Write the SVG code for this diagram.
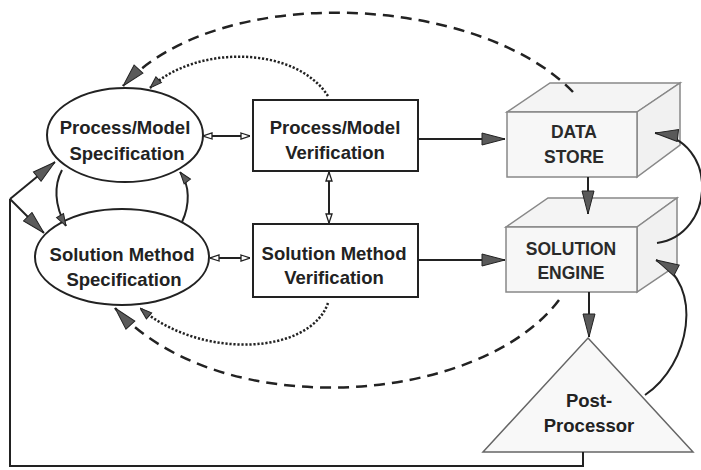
<svg xmlns="http://www.w3.org/2000/svg" width="701" height="470" viewBox="0 0 701 470">
  <style>
    .lbl { font-family: "Liberation Sans", Arial, sans-serif; font-weight: bold; font-size: 18.5px; fill: #222; text-anchor: middle; }
    .cube { font-size: 17.5px; fill: #2a2a2a; }
    .shape { fill: #fff; stroke: #222; stroke-width: 2; }
    .front { fill: #f7f7f7; stroke: #888; stroke-width: 1.5; }
    .top { fill: #f4f4f4; stroke: #888; stroke-width: 1.5; }
    .side { fill: #f1f1f1; stroke: #888; stroke-width: 1.5; }
    .tri { fill: #f8f8f8; stroke: #666; stroke-width: 1.5; }
    .ln { fill: none; stroke: #222; stroke-width: 2; }
    .dash { fill: none; stroke: #222; stroke-width: 2.5; stroke-dasharray: 11 7; }
    .dot { fill: none; stroke: #222; stroke-width: 2.5; stroke-dasharray: 2.2 1.8; }
  </style>
  <defs>
    <marker id="head" viewBox="0 0 24 14" refX="24" refY="7" markerWidth="24" markerHeight="14" markerUnits="userSpaceOnUse" orient="auto">
      <path d="M1,1 L24,7 L1,13 Z" fill="#5a5a5a" stroke="#222" stroke-width="1"/>
    </marker>
    <marker id="headSm" viewBox="0 0 13 10" refX="13" refY="5" markerWidth="13" markerHeight="10" markerUnits="userSpaceOnUse" orient="auto">
      <path d="M1,1 L13,5 L1,9 Z" fill="#5a5a5a" stroke="#222" stroke-width="1"/>
    </marker>
    <marker id="open" viewBox="0 0 10 8" refX="10" refY="4" markerWidth="10" markerHeight="8" markerUnits="userSpaceOnUse" orient="auto-start-reverse">
      <path d="M1,1 L10,4 L1,7 Z" fill="#fff" stroke="#222" stroke-width="1.3"/>
    </marker>
  </defs>

  <g id="pm-spec">
    <ellipse class="shape" cx="125" cy="135" rx="78" ry="47"/>
    <text class="lbl" x="125" y="134">Process/Model</text>
    <text class="lbl" x="127" y="160">Specification</text>
  </g>

  <g id="sm-spec">
    <ellipse class="shape" cx="122" cy="257" rx="87" ry="48"/>
    <text class="lbl" x="122" y="261">Solution Method</text>
    <text class="lbl" x="124" y="286">Specification</text>
  </g>

  <g id="pm-verif">
    <rect class="shape" x="253" y="100" width="165" height="71"/>
    <text class="lbl" x="335" y="134">Process/Model</text>
    <text class="lbl" x="335" y="159">Verification</text>
  </g>

  <g id="sm-verif">
    <rect class="shape" x="253" y="224" width="165" height="73"/>
    <text class="lbl" x="334" y="260">Solution Method</text>
    <text class="lbl" x="334" y="284">Verification</text>
  </g>

  <g id="data-store">
    <polygon class="top" points="507,112 550,83 680,83 637,112"/>
    <polygon class="side" points="637,112 680,83 680,145 637,177"/>
    <rect class="front" x="507" y="112" width="130" height="65"/>
    <text class="lbl cube" x="574" y="138">DATA</text>
    <text class="lbl cube" x="574" y="163">STORE</text>
  </g>

  <g id="solution-engine">
    <polygon class="top" points="506,227 548,198 677,198 637,227"/>
    <polygon class="side" points="637,227 677,198 677,265 637,292"/>
    <rect class="front" x="506" y="227" width="131" height="65"/>
    <text class="lbl cube" x="571" y="255">SOLUTION</text>
    <text class="lbl cube" x="571" y="279">ENGINE</text>
  </g>

  <g id="post-processor">
    <polygon class="tri" points="588,338 693,452 483,452"/>
    <text class="lbl" x="589" y="407">Post-</text>
    <text class="lbl" x="589" y="432">Processor</text>
  </g>

  <!-- connectors, drawn over the nodes so the loops show on the cube faces -->
  <g id="connectors">
    <!-- feedback loop from the post-processor -->
    <polyline class="ln" points="583,452 583,466 10,466 10,199"/>
    <line class="ln" x1="10" y1="199" x2="55" y2="162" marker-end="url(#head)"/>
    <line class="ln" x1="10" y1="199" x2="44" y2="233" marker-end="url(#head)"/>
    <!-- links between the two specifications -->
    <path class="ln" d="M62,170 C54,185 54,205 66,226" marker-end="url(#headSm)"/>
    <path class="ln" d="M182,222 C190,205 190,185 180,172" marker-end="url(#headSm)"/>
    <!-- specification / verification pairs -->
    <line class="ln" x1="203" y1="136" x2="250" y2="136" marker-start="url(#open)" marker-end="url(#open)"/>
    <line class="ln" x1="210" y1="258" x2="250" y2="258" marker-start="url(#open)" marker-end="url(#open)"/>
    <line class="ln" x1="329" y1="172" x2="329" y2="223" marker-start="url(#open)" marker-end="url(#open)"/>
    <!-- verification to store / engine -->
    <line class="ln" x1="418" y1="139" x2="505" y2="139" marker-end="url(#head)"/>
    <line class="ln" x1="418" y1="260" x2="505" y2="260" marker-end="url(#head)"/>
    <!-- store to engine to post-processor -->
    <line class="ln" x1="588" y1="177" x2="588" y2="214" marker-end="url(#head)"/>
    <line class="ln" x1="589" y1="292" x2="589" y2="337" marker-end="url(#head)"/>
    <!-- right-hand loops -->
    <path class="ln" d="M657,243 C715,235 720,140 655,133" marker-end="url(#head)"/>
    <path class="ln" d="M645,395 C690,365 705,285 656,260" marker-end="url(#head)"/>
    <!-- dashed and dotted returns -->
    <path class="dash" d="M573,92 C480,-5 220,-20 123,86" marker-end="url(#head)"/>
    <path class="dot" d="M328,96 C295,45 195,45 150,88" marker-end="url(#headSm)"/>
    <path class="dash" d="M559,300 C480,405 220,425 115,308" marker-end="url(#head)"/>
    <path class="dot" d="M328,303 C310,355 200,360 140,308" marker-end="url(#headSm)"/>
  </g>
</svg>
